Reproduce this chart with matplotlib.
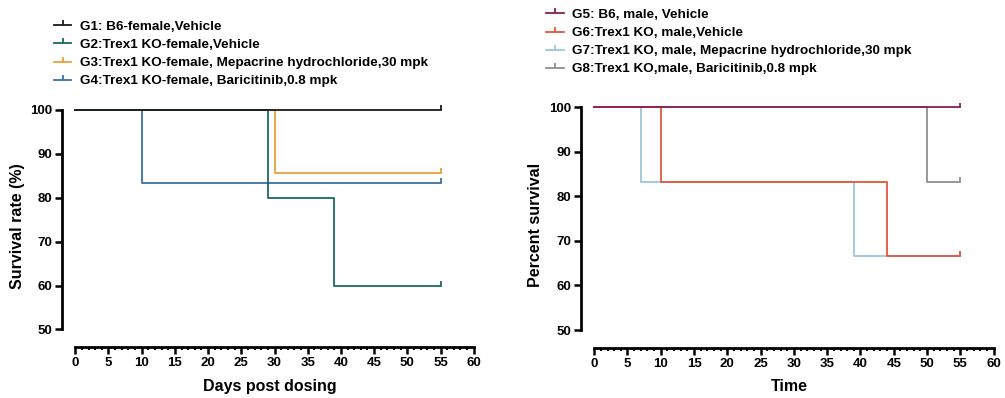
import matplotlib.pyplot as plt
from matplotlib.ticker import MultipleLocator, FixedLocator

plt.rcParams['font.family'] = ['Liberation Sans', 'DejaVu Sans']
plt.rcParams['font.weight'] = 'bold'

# female groups
labels_f = ['G1: B6-female,Vehicle',
            'G2:Trex1 KO-female,Vehicle',
            'G3:Trex1 KO-female, Mepacrine hydrochloride,30 mpk',
            'G4:Trex1 KO-female, Baricitinib,0.8 mpk']
colors_f = ['#1a1a1a', '#1b6b5c', '#e8a33a', '#3d6fa8']
t_f = [[0, 55], [0, 29, 39, 55], [0, 30, 55], [0, 10, 55]]
s_f = [[100, 100], [100, 80, 60, 60], [100, 85.7, 85.7], [100, 83.3, 83.3]]

# male groups
labels_m = ['G5: B6, male, Vehicle',
            'G6:Trex1 KO, male,Vehicle',
            'G7:Trex1 KO, male, Mepacrine hydrochloride,30 mpk',
            'G8:Trex1 KO,male, Baricitinib,0.8 mpk']
colors_m = ['#8e1d55', '#e2583a', '#9cc6de', '#8f8f8f']
t_m = [[0, 55], [0, 10, 44, 55], [0, 7, 39, 55], [0, 50, 55]]
s_m = [[100, 100], [100, 83.3, 66.7, 66.7], [100, 83.3, 66.7, 66.7], [100, 83.3, 83.3]]

censor = [(0, 0), (0, 1)]

fig = plt.figure(figsize=(10.05, 3.98), dpi=100)
ax1 = fig.add_axes([0.0617, 0.128, 0.413, 0.607])
ax2 = fig.add_axes([0.578, 0.126, 0.414, 0.616])


def draw(ax, ts, ss, labels, colors, xlabel, ylabel):
    n = len(ts)
    handles = []
    for i in range(n):
        h, = ax.step(ts[i], ss[i], where='post', color=colors[i], lw=1.3,
                     marker=censor, markevery=[len(ts[i]) - 1], ms=6.5, mew=1.3,
                     zorder=10 - i, label=labels[i])
        handles.append(h)
    ax.set_xlim(-2, 60.5)
    ax.set_ylim(46, 101)
    for s in ['top', 'right']:
        ax.spines[s].set_visible(False)
    ax.spines['left'].set_position(('data', -2))
    ax.spines['left'].set_bounds(50, 100)
    ax.spines['bottom'].set_position(('data', 46))
    ax.spines['bottom'].set_bounds(0, 60)
    for s in ['left', 'bottom']:
        ax.spines[s].set_linewidth(2)
    ax.set_yticks([50, 60, 70, 80, 90, 100])
    ax.xaxis.set_major_locator(MultipleLocator(5))
    ax.xaxis.set_minor_locator(FixedLocator(range(0, 61)))
    ax.tick_params(axis='both', which='major', length=5, width=1.8, labelsize=9.5, pad=2)
    ax.tick_params(axis='x', which='minor', length=2.5, width=1.5)
    ax.set_xlabel(xlabel, fontsize=11.5, fontweight='bold', labelpad=7)
    ax.set_ylabel(ylabel, fontsize=11.5, fontweight='bold', labelpad=4)
    return handles


h1 = draw(ax1, t_f, s_f, labels_f, colors_f, 'Days post dosing', 'Survival rate (%)')
h2 = draw(ax2, t_m, s_m, labels_m, colors_m, 'Time', 'Percent survival')

fig.legend(handles=h1, loc='upper left', bbox_to_anchor=(0.047, 0.965), frameon=False,
           fontsize=9.7, handlelength=1.3, handletextpad=0.6, labelspacing=0.42,
           borderpad=0, numpoints=1)
fig.legend(handles=h2, loc='upper left', bbox_to_anchor=(0.537, 0.995), frameon=False,
           fontsize=9.7, handlelength=1.3, handletextpad=0.6, labelspacing=0.42,
           borderpad=0, numpoints=1)

fig.savefig('out.png', dpi=100)
